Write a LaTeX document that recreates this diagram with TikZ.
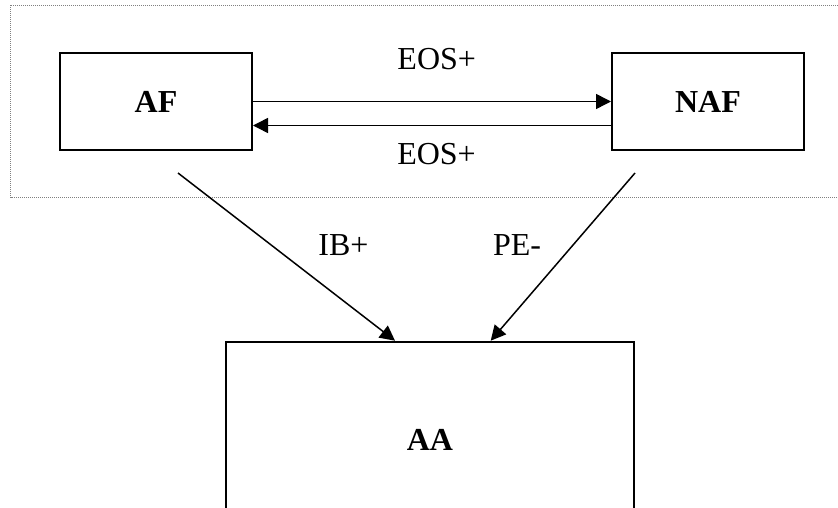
\documentclass[tikz,border=0pt]{standalone}
\usepackage{fontspec}
\setmainfont{Liberation Serif}
\usetikzlibrary{arrows.meta}
\tikzset{
  box/.style={draw, line width=2pt, inner sep=0pt, font=\fontsize{32}{38}\selectfont\bfseries},
  lbl/.style={inner sep=0pt, font=\fontsize{32}{38}\selectfont},
  arr/.style={line width=1.5pt, -{Triangle[length=15pt,width=15pt]}},
  frame/.style={draw=gray, line width=1pt, dash pattern=on 1pt off 1pt}
}
\begin{document}
\begin{tikzpicture}[x=1pt,y=-1pt]
\useasboundingbox (0,0) rectangle (838,508);
\clip (0,0) rectangle (838,508);
\fill[white] (0,0) rectangle (838,508);
\draw[frame] (10.7,5.3) rectangle (860,197.7);
\node[box, minimum width=192pt, minimum height=97pt] (AF) at (156,101.5) {AF};
\node[box, minimum width=192pt, minimum height=97pt] (NAF) at (708,101.5) {NAF};
\node[box, minimum width=408pt, minimum height=198pt] (AA) at (430,440.7) {};
\node[lbl, font=\fontsize{32}{38}\selectfont\bfseries] (AAt) at (430,440) {AA};
\draw[arr] (AF.east) -- (NAF.west);
\draw[arr] ([yshift=-24pt]NAF.west) -- ([yshift=-24pt]AF.east);
\coordinate (s1) at (178,173);
\coordinate (s2) at (635,173);
\draw[arr] (s1) -- ([xshift=-35pt]AA.north);
\draw[arr] (s2) -- ([xshift=60.7pt]AA.north);
\node[lbl] (eos1) at (436.7,59) {EOS+};
\node[lbl] (eos2) at (436.5,154) {EOS+};
\node[lbl] (ib) at (343.5,245.5) {IB+};
\node[lbl] (pe) at (517,245.5) {PE-};
\end{tikzpicture}
\end{document}
